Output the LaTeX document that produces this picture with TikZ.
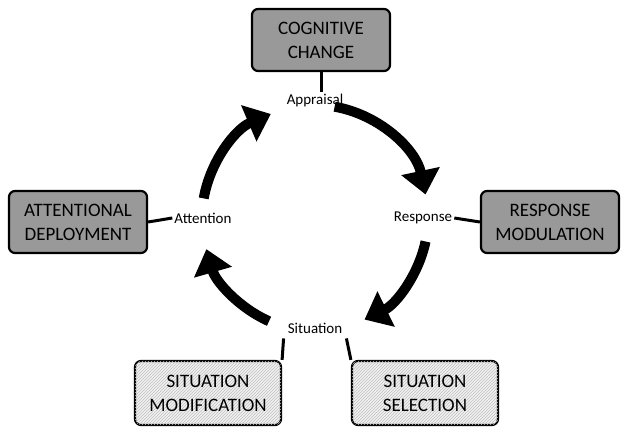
\documentclass[tikz,border=0pt]{standalone}
\usepackage{fontspec}
\setmainfont{Carlito}
\usetikzlibrary{positioning,patterns,arrows.meta}

\tikzset{
  dark/.style={draw,line width=2.2pt,rounded corners=6pt,fill=black!40,align=center,font=\fontsize{19}{24}\selectfont,minimum width=138pt,minimum height=62pt,inner sep=2pt},
  light/.style={draw,line width=2.2pt,rounded corners=6pt,fill=black!5,align=center,font=\fontsize{19}{24}\selectfont,minimum width=146pt,minimum height=64pt,inner sep=2pt,
    postaction={pattern=north east lines,pattern color=black!25}},
  lbl/.style={font=\fontsize{15}{17}\selectfont,inner sep=2pt},
  cyc/.style={line width=10pt,-{Triangle[length=24pt,width=38pt]}},
  tie/.style={line width=3pt}
}

\begin{document}
\begin{tikzpicture}[x=1pt,y=1pt]
	\useasboundingbox (0,0) rectangle (629,-435);
	\coordinate (c) at (315,-218);
	\node[lbl] (appr) at (315,-101) {Appraisal};
	\node[lbl] (resp) at (423,-218) {Response};
	\node[lbl] (sit) at (315,-328) {Situation};
	\node[lbl] (att) at (203,-218) {Attention};
	\node[dark] (cog) at (321,-40) {COGNITIVE\\CHANGE};
	\node[dark] (rmod) at (550,-222) {RESPONSE\\MODULATION};
	\node[dark] (adep) at (78,-222) {ATTENTIONAL\\DEPLOYMENT};
	\node[light] (smod) at (208,-393) {SITUATION\\MODIFICATION};
	\node[light] (ssel) at (425,-393) {SITUATION\\SELECTION};
	% ties
	\draw[tie] (cog.south) -- (cog.south |- appr.north);
	\draw[tie] (att.west) -- (adep.east);
	\draw[tie] (resp.east) -- (rmod.west);
	\draw[tie] (sit.south west) ++(-2,-3) coordinate (s1) -- (smod.north east);
	\draw[tie] (sit.south east) ++(2,-3) coordinate (s2) -- (ssel.north west);
	% cycle
	\draw[cyc] ([shift={(80:113)}]c) arc (80:12:113);
	\draw[cyc] ([shift={(-12:113)}]c) arc (-12:-64:113);
	\draw[cyc] ([shift={(-114:113)}]c) arc (-114:-164:113);
	\draw[cyc] ([shift={(170:113)}]c) arc (170:113:113);
\end{tikzpicture}
\end{document}
